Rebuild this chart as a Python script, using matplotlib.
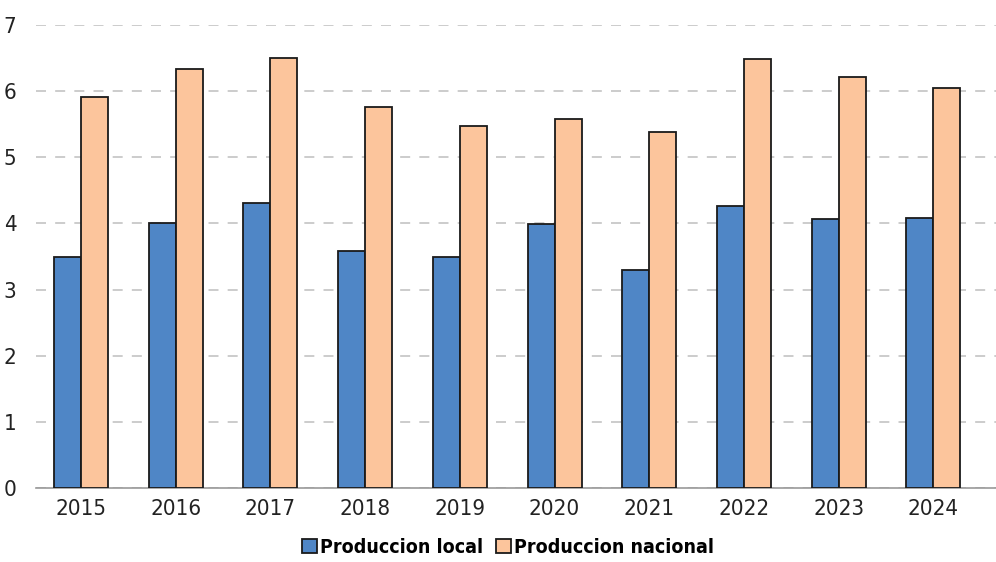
import matplotlib
matplotlib.use("Agg")
import matplotlib.pyplot as plt
import numpy as np

# Datos
years = ["2015", "2016", "2017", "2018", "2019", "2020", "2021", "2022", "2023", "2024"]
local = [3.49, 4.0, 4.31, 3.58, 3.49, 3.99, 3.29, 4.26, 4.06, 4.08]
nacional = [5.91, 6.33, 6.50, 5.76, 5.47, 5.57, 5.38, 6.48, 6.21, 6.04]

plt.rcParams['font.family'] = ['DejaVu Sans']
plt.rcParams['font.stretch'] = 'condensed'

fig = plt.figure(figsize=(9.96, 5.62), dpi=100)
ax = fig.add_axes([36 / 996, 0.131, 960 / 996, 0.825])

x = np.arange(len(years))
w = 0.285
ax.bar(x - w / 2, local, w, color="#4f86c6", edgecolor="#1a1a1a", linewidth=1.3,
       label="Produccion local", zorder=3)
ax.bar(x + w / 2, nacional, w, color="#fcc59c", edgecolor="#1a1a1a", linewidth=1.3,
       label="Produccion nacional", zorder=3)

ax.set_xlim(-0.475, 9.66)
ax.set_ylim(0, 7)
ax.set_yticks(range(0, 8))
ax.set_xticks(x)
ax.set_xticklabels(years)
ax.tick_params(axis="both", length=0, labelsize=16, colors="#222222")
ax.tick_params(axis="x", pad=8)
ax.tick_params(axis="y", pad=14)

ax.grid(axis="y", color="#c4c4c4", linestyle=(0, (6, 5.5)), linewidth=1.2, zorder=0)
for s in ["left", "right", "top"]:
    ax.spines[s].set_visible(False)
ax.spines["bottom"].set_color("#999999")
ax.spines["bottom"].set_linewidth(1.2)

leg = fig.legend(loc="lower center", bbox_to_anchor=(0.51, -0.022), ncol=2, frameon=False,
                 prop={"weight": "bold", "size": 14}, handlelength=0.75, handleheight=0.75,
                 handletextpad=0.15, columnspacing=0.7)

fig.savefig("out.png", dpi=100)
